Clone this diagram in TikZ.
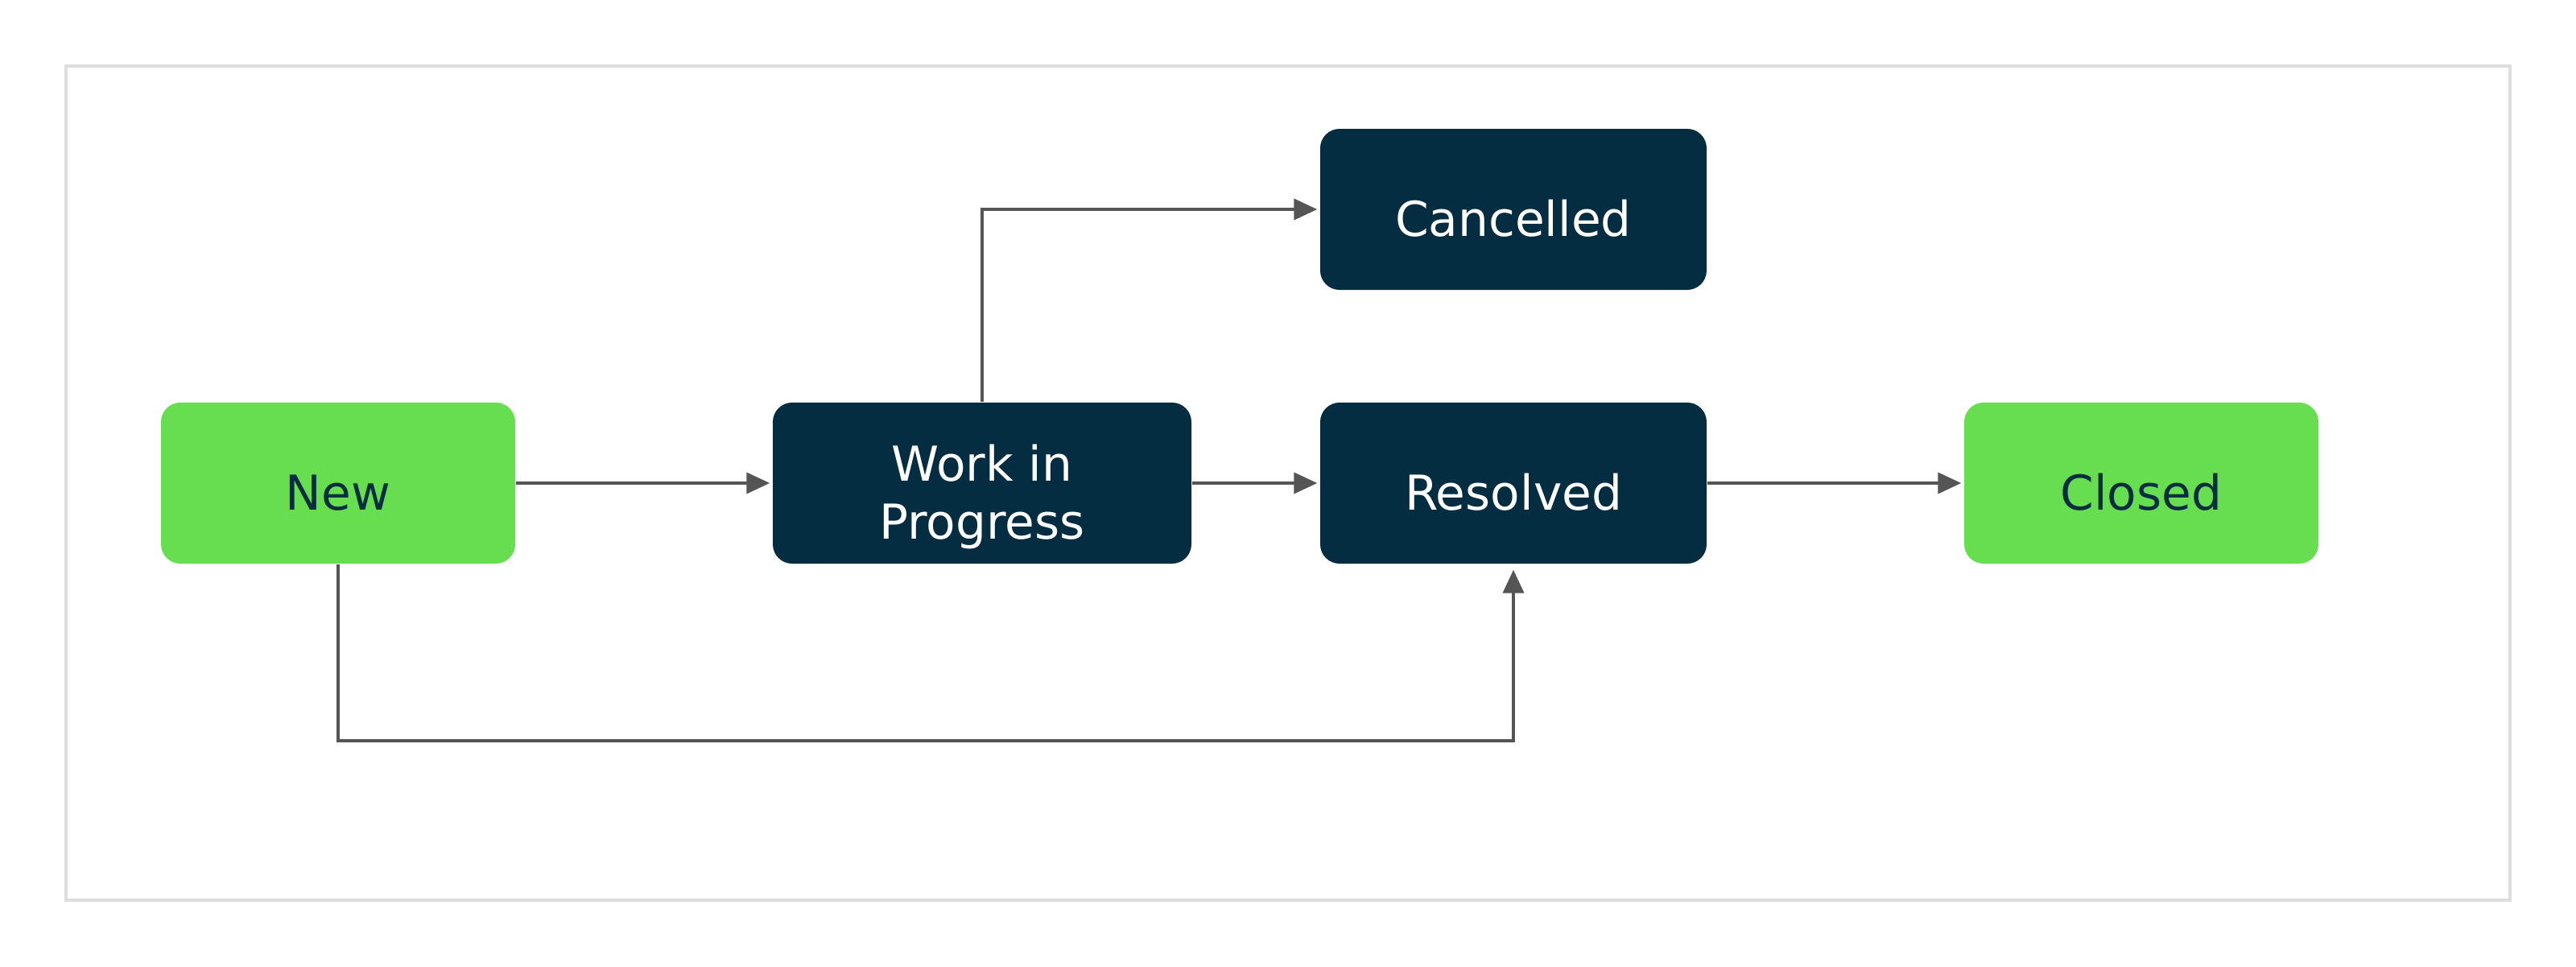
\documentclass[tikz,border=0pt]{standalone}
\usepackage{fontspec}
\setmainfont{DejaVu Sans}
\usetikzlibrary{arrows.meta}
\definecolor{leaf}{HTML}{66DE50}
\definecolor{navy}{HTML}{052D42}
\definecolor{wire}{HTML}{555555}
\definecolor{frame}{HTML}{DDDDDD}

\begin{document}
\begin{tikzpicture}[font=\fontsize{17}{20.4}\selectfont,
  box/.style={rounded corners=2.4mm,minimum height=2cm,inner sep=0pt,text height=19.2pt,text depth=0pt},
  open/.style={box,fill=leaf,text=navy,minimum width=4.4cm},
  busy/.style={box,fill=navy,text=white,minimum width=4.8cm},
  twolines/.style={align=center,text height=39.6pt,text depth=0pt},
  flow/.style={wire,line width=1.1pt,-{Triangle[length=2.9mm,width=2.6mm]},shorten >=0.3mm}]
\useasboundingbox (0,0) rectangle (32,-12);
\draw[frame,line width=1.1pt] (0.82,-0.82) rectangle (31.18,-11.18);
% states
\node[open] (new) at (4.2,-6) {New};
\node[busy,twolines,minimum width=5.2cm] (wip) at (12.2,-6) {Work in\\Progress};
\node[busy] (cancel) at (18.8,-2.6) {Cancelled};
\node[busy] (resolved) at (18.8,-6) {Resolved};
\node[open] (closed) at (26.6,-6) {Closed};
% transitions
\coordinate (dip) at (4.2,-9.2);
\draw[flow] (new) -- (wip);
\draw[flow] (wip.north) |- (cancel.west);
\draw[flow] (wip) -- (resolved);
\draw[flow] (resolved) -- (closed);
\draw[flow,shorten >=0.7mm] (new.south) -- (dip) -| (resolved.south);
\end{tikzpicture}
\end{document}
